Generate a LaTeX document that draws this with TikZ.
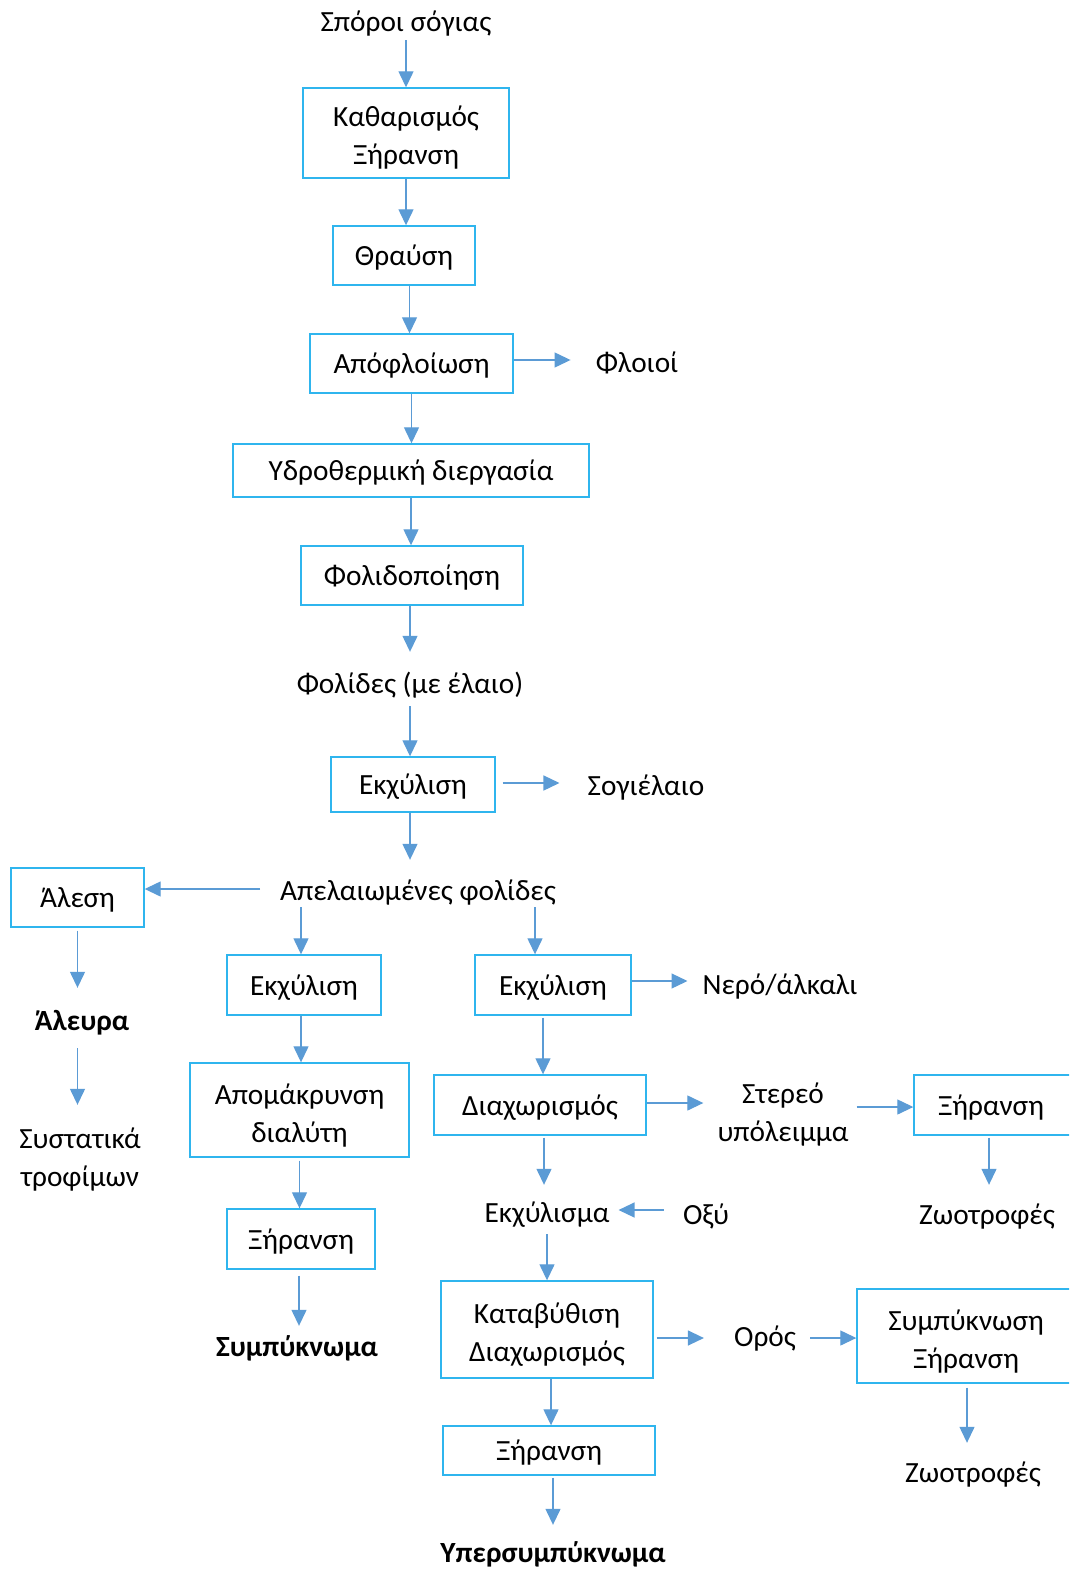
\documentclass[tikz,border=0pt]{standalone}
\usepackage{fontspec}
\setmainfont{Carlito}
\usetikzlibrary{arrows.meta,calc}
\definecolor{boxc}{HTML}{2FB5EE}
\definecolor{arrc}{HTML}{5B9BD5}
\newcommand{\toprule}{\rule{0pt}{26pt}}
\newcommand{\ms}{\rule{0pt}{32pt}}
\newcommand{\mt}{\rule{0pt}{28pt}}
\newcommand{\botrule}{\rule[-6pt]{0pt}{0pt}}
\begin{document}
\begin{tikzpicture}[x=1pt,y=-1pt,
  every node/.style={font=\fontsize{29.3}{38}\selectfont, execute at begin node=\toprule, execute at end node=\botrule},
  box/.style n args={2}{draw=boxc, line width=1.4pt, minimum width=#1pt, minimum height=#2pt, inner sep=0pt, align=center},
  txt/.style={inner sep=0pt},
  txtm/.style={inner sep=0pt, align=center},
  bold/.style={font=\fontsize{29.3}{38}\selectfont\bfseries},
  arr/.style={draw=arrc, line width=1.3pt, -{Triangle[width=15pt,length=16pt]}}]
\useasboundingbox (0,0) rectangle (1069,1570);
\clip (0,0) rectangle (1069,1570);
% boxes
\node[box={206}{90}] (kath) at (406,133) {\ms Καθαρισμός\\Ξήρανση};
\node[box={142}{59}] (thr) at (404,255.5) {Θραύση};
\node[box={203}{59}] (apof) at (411.5,363.5) {Απόφλοίωση};
\node[box={356}{53}] (ydro) at (411,470.5) {Υδροθερμική διεργασία};
\node[box={222}{59}] (folid) at (412,575.5) {Φολιδοποίηση};
\node[box={164}{55}] (ekx) at (413,784.5) {Εκχύλιση};
\node[box={133}{59}] (ales) at (77.5,897.5) {Άλεση};
\node[box={154}{60}] (ekl) at (304,985) {Εκχύλιση};
\node[box={156}{60}] (ekr) at (553,985) {Εκχύλιση};
\node[box={219}{94}] (apom) at (299.5,1110) {\ms Απομάκρυνση\\διαλύτη};
\node[box={212}{60}] (diax) at (540,1105) {Διαχωρισμός};
\node[box={160}{60}] (xr) at (994,1105) {\hspace*{-6pt}Ξήρανση};
\node[box={148}{60}] (xl) at (301,1239) {Ξήρανση};
\node[box={212}{97}] (katab) at (547,1329.5) {\ms Καταβύθιση\\Διαχωρισμός};
\node[box={218}{94}] (symp) at (966,1336) {\ms Συμπύκνωση\\Ξήρανση};
\node[box={212}{49}] (xb) at (549,1450.5) {Ξήρανση};
% texts
\node[txt] (sp) at (406,22) {Σπόροι σόγιας};
\node[txt] (floioi) at (637,362) {Φλοιοί};
\node[txt] (folides) at (410,683) {Φολίδες (με έλαιο)};
\node[txt] (sogie) at (646,785) {Σογιέλαιο};
\node[txt] (apel) at (418,890) {Απελαιωμένες φολίδες};
\node[txt,bold] (aleura) at (82,1020) {Άλευρα};
\node[txtm] (systat) at (80,1156) {\mt Συστατικά\\τροφίμων};
\node[txt] (nero) at (780,984) {Νερό/άλκαλι};
\node[txtm] (stereo) at (783,1111) {\mt Στερεό\\υπόλειμμα};
\node[txt] (zwo1) at (987,1214) {Ζωοτροφές};
\node[txt] (ekxlisma) at (547,1212) {Εκχύλισμα};
\node[txt] (oxy) at (706,1214) {Οξύ};
\node[txt,bold] (sympuk) at (297,1346) {Συμπύκνωμα};
\node[txt] (oros) at (765,1336) {Ορός};
\node[txt] (zwo2) at (973,1472) {Ζωοτροφές};
\node[txt,bold] (yper) at (553,1552) {Υπερσυμπύκνωμα};
% arrows
\draw[arr, shorten <=2pt] (sp.south) -- (sp.south |- kath.north);
\draw[arr] (kath.south) -- (kath.south |- thr.north);
\draw[arr] (thr.south -| apof.north) ++(-2pt,0) -- ([xshift=-2pt]apof.north);
\draw[arr, shorten >=25pt] ([yshift=3.5pt]apof.east) -- ([yshift=3.5pt]apof.east -| floioi.west);
\draw[arr] (apof.south) -- (apof.south |- ydro.north);
\draw[arr] (ydro.south) -- (ydro.south |- folid.north);
\draw[arr, shorten >=15pt] ([xshift=-2pt]folid.south) -- ([xshift=-2pt]folid.south |- folides.north);
\draw[arr, shorten <=7pt] (folides.south) -- (folides.south |- ekx.north);
\draw[arr, shorten <=7pt, shorten >=28pt] ([yshift=1.5pt]ekx.east) -- ([yshift=1.5pt]ekx.east -| sogie.west);
\draw[arr, shorten >=14pt] ([xshift=-3pt]ekx.south) -- ([xshift=-3pt]ekx.south |- apel.north);
\draw[arr, shorten <=20pt] ([yshift=1pt]apel.west) -- ([yshift=1pt]apel.west -| ales.east);
\draw[arr, shorten <=1pt] ([xshift=-3pt]apel.south -| ekl.north) -- ([xshift=-3pt]ekl.north);
\draw[arr, shorten <=1pt] ([xshift=-18pt]apel.south -| ekr.north) -- ([xshift=-18pt]ekr.north);
\draw[arr, shorten <=3pt, shorten >=16pt] (ales.south) -- (ales.south |- aleura.north);
\draw[arr, shorten <=12pt, shorten >=15pt] (aleura.south -| ales.south) -- (ales.south |- systat.north);
\draw[arr] ([xshift=-3pt]ekl.south) -- ([xshift=-3pt]ekl.south |- apom.north);
\draw[arr, shorten <=3pt] (apom.south) -- (apom.south |- xl.north);
\draw[arr, shorten <=6pt, shorten >=4pt] ([xshift=-2pt]xl.south) -- ([xshift=-2pt]xl.south |- sympuk.north);
\draw[arr, shorten >=15pt] ([yshift=4pt]ekr.east) -- ([yshift=4pt]ekr.east -| nero.west);
\draw[arr, shorten <=2pt] (ekr.south -| diax.north) ++(3pt,0) -- ([xshift=3pt]diax.north);
\draw[arr, shorten >=14pt] ([yshift=2pt]diax.east) -- ([yshift=2pt]diax.east -| stereo.west);
\draw[arr, shorten <=8pt] ([yshift=4pt]stereo.east) -- ([yshift=4pt]stereo.east -| xr.west);
\draw[arr, shorten <=2pt, shorten >=13pt] (xr.south -| zwo1.north) ++(2pt,0) -- ([xshift=2pt]zwo1.north);
\draw[arr, shorten <=2pt, shorten >=11pt] ([xshift=4pt]diax.south) -- ([xshift=4pt]diax.south |- ekxlisma.north);
\draw[arr, shorten <=19pt] ([yshift=4pt]oxy.west) -- ([xshift=9pt,yshift=4pt]oxy.west -| ekxlisma.east);
\draw[arr, shorten <=6pt] (ekxlisma.south) -- (ekxlisma.south |- katab.north);
\draw[arr, shorten <=3pt, shorten >=30pt] ([yshift=-8.5pt]katab.east) -- ([yshift=-8.5pt]katab.east -| oros.west);
\draw[arr, shorten <=14pt] ([yshift=-2pt]oros.east) -- ([yshift=-2pt]oros.east -| symp.west);
\draw[arr, shorten <=4pt, shorten >=13pt] (symp.south) ++(1pt,0) -- ([xshift=1pt]symp.south |- zwo2.north);
\draw[arr] ([xshift=4pt]katab.south) -- ([xshift=4pt]katab.south |- xb.north);
\draw[arr, shorten <=2pt, shorten >=11pt] ([xshift=4pt]xb.south) -- ([xshift=4pt]xb.south |- yper.north);
\end{tikzpicture}
\end{document}
